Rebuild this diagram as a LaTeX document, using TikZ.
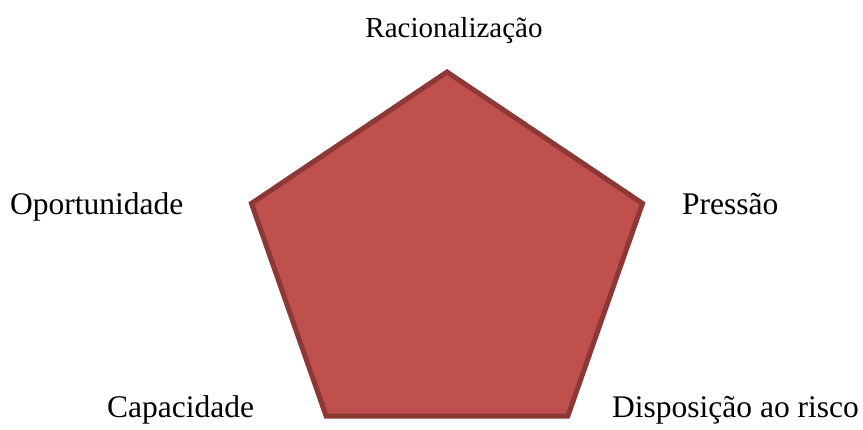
\documentclass[tikz,border=0pt]{standalone}
\usepackage{fontspec}
\setmainfont{Liberation Serif}
\usetikzlibrary{positioning}

\definecolor{pentfill}{HTML}{C0504D}
\definecolor{pentline}{HTML}{8C3836}
\tikzset{
  factor/.style={inner sep=0pt, font=\fontsize{31.5}{36}\selectfont},
  topfactor/.style={inner sep=0pt, font=\fontsize{29}{34}\selectfont}
}

\begin{document}
\begin{tikzpicture}[x=1pt,y=1pt]
  \useasboundingbox (0,0) rectangle (863,429);
  % pentagon, slightly squashed
  \foreach \a/\n in {90/r,162/o,234/c,306/d,18/p} { \coordinate (v\n) at ({447+205.6*cos(\a)},{166.8+190.2*sin(\a)}); }
  \draw[line width=5pt, pentline, fill=pentfill] (vr) -- (vo) -- (vc) -- (vd) -- (vp) -- cycle;
  % labels
  \node[topfactor, anchor=base] (racio) at (454,391) {Racionalização};
  \node[factor, anchor=base west] (oport) at (10,214) {Oportunidade};
  \node[factor, anchor=base west] (press) at (682,214) {Pressão};
  \node[factor, anchor=base west] (capac) at (107,12) {Capacidade};
  \node[factor, anchor=base west] (dispo) at (612,12) {Disposição ao risco};
\end{tikzpicture}
\end{document}
